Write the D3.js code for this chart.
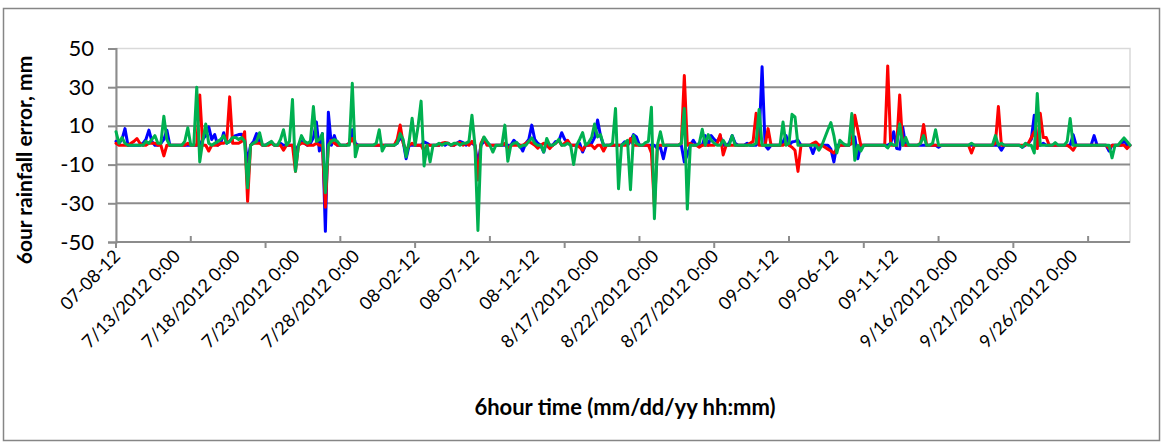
<!DOCTYPE html>
<html><head><meta charset="utf-8">
<script src="https://cdn.jsdelivr.net/npm/d3@7"></script>
<style>
body{margin:0;background:#fff}
svg{display:block}
text{font-family:Lato,"Liberation Sans",sans-serif;fill:#000}
</style>
</head><body>
<svg id="c" width="1163" height="444"></svg>
<script>
// 6-hourly categories, 2012-07-08 00:00 .. 2012-09-30 18:00 (340 points)
const categories = d3.timeHour.every(6).range(new Date(2012,6,8,0), new Date(2012,9,1,0));

const tickLabels = ["07-08-12","7/13/2012 0:00","7/18/2012 0:00","7/23/2012 0:00","7/28/2012 0:00",
  "08-02-12","08-07-12","08-12-12","8/17/2012 0:00","8/22/2012 0:00","8/27/2012 0:00",
  "09-01-12","09-06-12","09-11-12","9/16/2012 0:00","9/21/2012 0:00","9/26/2012 0:00"];
const yTicks = [-50,-30,-10,10,30,50];

const blueSeries = [
 2,1,3,8.6,0,0,0,0,0,1,3,7.8,2,0,0,1,3,7.8,0,0,
 0,0,0,0,0,0,0,0,0,3,5,9.5,3,5.5,0,1,6.5,1,2,4,
 5,5.5,5.7,3,-8.6,0,2,6,2,0,0,1,1,0,0,1,0,0,0,0,
 -3,0,2,1,0,1,4,12,-3,6,-44.5,17,0,5,0,0,0,0,1,8,
 1,0,0,0,0,0,0,0,0,0,0,0,0,0,1,4,2,-7,0,0,
 0,0,0,1.7,1,0,0,0,0,1,0,1,0,0,1,2,1.4,0,1,1,
 0,-10,0,2,1,0,0,0,0,0,0,0,0,2.6,1,0,-3,1,3,10.4,
 3,1,0,-3.5,2,0,0,2,2,6.5,3,1.7,0,0,0,1,-3.5,0,0,1,
 4,13,4.8,0,0,0,0,0,0,0,1.7,0,2,5.5,4.3,0,0,0,0,0,
 0,-1.7,-1,-7,0,0,0,0,0,0,-8.6,-5,0,2.6,0,0,0,5,0,5,
 3,1.7,4.8,0,0,1,5,1,0,0,0,1,0,0,0,3,40.6,0,-2,0,
 0,0,0,1.7,5,0,1.7,2,2.6,0,0,0,0,-4.3,0,0,0,0,0,-2,
 -8.6,0,0,0,0,0,1,4.3,-7,0,0,0,0,0,0,0,0,0,0,1,
 7,-1.7,-2,9.5,0,0,0,0,0,0,0,0,0,0,0,-1,0,0,0,0,
 0,0,0,0,0,0,0,0,0,0,0,0,0,0,0,0,-2.6,0,0,0,
 0,0,0,-1,0,1,3,15.5,0,0,1,0,0,0,0,0,0,0,0,0,
 5.5,0,0,0,0,0,0,5,0,0,0,0,-3,0,0,0,0,2.6,0,0
];
const redSeries = [
 1,0,0,0,0,1,2,3.5,1,0,0,1,1,1,0,0,-5.5,0,0,0,
 0,0,0,0,1,0,0,0,26,0,0,-3,0,0,0,1,1,2,25,1,
 1,1,2,7,-29,0,1,1,1,0,0,0,1,0,0,0,-2.6,0,0,0,
 -13.5,0,1,1,0,0,0,1,0,0,-32,0,2.6,1,0,0,0,0,1,3.5,
 0,0,0,0,0,0,0,0,0,0,0,0,0,0,3,10.5,1,-3,0,1,
 0,0,0,-3,0,0,0,0,0,1,1.4,1,0,0,1,1.4,0,1,0,2,
 0,-18,1,4,0,0,0,0,0,0,1,-2,0,0,0,0,0,1,2,1,
 0,-1.5,0,1,0,-1.7,0,1,2.6,0,1,2.6,0,0,0,-1,-2.6,0,0,0,
 -1.7,0,0,-3,0,0,0,0,0,0,0,0,3.5,0,0,0,0,0,0,-4,
 -32,0,0,0,0,0,0,0,0,1,36,0,1,0,0,-1,0,0,0,0,
 0,1,5.5,-5,0,0,0,0,0,0,0,0,1,2,16.5,0,0,0,8.6,0,
 0,0,0,0,1,0,-1,-2.6,-13.5,0,0,0,0,1,1.7,0,0,-1,-2,-3,
 -4,-2,0,0,0,0,1,15.5,7.8,0,0,0,0,0,0,0,0,0,41,0,
 0,0,26,0,0,0,0,0,0,1,10.7,0,0,0,0,0,0,0,0,0,
 0,0,0,0,0,0,-4,0,0,0,0,0,0,0,1,20,0,0,0,0,
 0,0,0,0,0,1,4,7,-1.7,16.5,4,4,0,0,0,0,0,0,0,-1,
 -2.6,0,0,0,0,0,0,0,0,0,0,0,-1.7,0,0,0,0,0,-1.7,0
];
const greenSeries = [
 7,1,4,1,0,0,0,0,0,0,2,1,3,5,1,1,15,3,0,0,
 0,0,0,2,9,0,0,30,-8.6,2,11,1,0,1,2,3,5,1,2,4,
 4,3,4,2,-22,0,1,2,6.5,0,0,1,2,0,0,3,8,0,2,23.7,
 -13.5,0,5,2,1,2,20,2,3,6,-24.5,0,2,3,2,0,0,0,0,32,
 -6,0,0,0,0,0,0,1,8,-3,0,0,0,0,1,6,3,-6,2,14,
 0,10,22.8,-10.7,0,-8.6,0,0,1,0,1,1,0,1,1,0,1,1,2,15.5,
 0,-44,0,4.3,2,0,-3.5,0,0,0,10.4,-8.3,0,1,1.4,-1,0,0,2,3.8,
 1,0,0,-3.5,3.5,0,0,1,3,0,0,1,0,-10,0,3,6.5,0,1.4,4,
 11,4.3,5.5,0,0,0,1,19,-22.5,0,1,2.6,-23,5,1,0,0,1.4,2,19.7,
 -38,0,7,0,0,0,0,0,0,1,19,-33,0,0,0,1,8.3,0,5.5,2.6,
 1,0,0,2.6,0,0,5,0,0,0,0,0,0,0,1,18.5,0,0,0,0,
 0,0,0,12,0,1,16,14.7,0,0,0,0,0,0,0,-2.6,0,4,8,11.7,
 5,-4,2.6,1,0,0,16.4,-7.8,0,-3,0,0,0,0,0,0,0,0,-1.4,1,
 0,0,11,0,4,0,0,0,0,1,5,0,0,1,8,0,0,0,0,0,
 0,0,0,0,0,0,1,0,0,0,0,0,0,0,5,0,1,0,0,0,
 0,0,0,-1,1,0,0,-4,26.8,0,0,0,0,0,1.4,0,0,0,2,13.8,
 0,0,0,0,0,0,0,0,0,0,0,0,0,-6.5,0,0,2,3.8,2,0
];

const svg = d3.select("#c");
const L = 116, R = 1130, T = 48.5, B = 242;

// outer chart frame
svg.append("rect").attr("x",3.5).attr("y",8.5).attr("width",1156).attr("height",432)
  .attr("fill","#fff").attr("stroke","#868686").attr("stroke-width",1.5);

const x = d3.scalePoint().domain(d3.range(categories.length)).range([L, R]);
const y = d3.scaleLinear().domain([-50, 50]).range([B, T]);

// plot-area border (light)
svg.append("rect").attr("x",L).attr("y",T).attr("width",R-L).attr("height",B-T)
  .attr("fill","none").attr("stroke","#d9d9d9").attr("stroke-width",1.5);

// gridlines
svg.append("g").selectAll("line").data(yTicks.filter(v => v > -50 && v < 50)).join("line")
  .attr("x1",L).attr("x2",R).attr("y1",d=>y(d)).attr("y2",d=>y(d))
  .attr("stroke","#8c8c8c").attr("stroke-width",2);

// y axis (hyphen-minus labels as in the original)
const yAxis = svg.append("g").attr("transform",`translate(${L},0)`)
  .call(d3.axisLeft(y).tickValues(yTicks).tickSize(8).tickPadding(14).tickFormat(d => String(d)));
yAxis.select(".domain").attr("stroke","#8c8c8c").attr("stroke-width",2);
yAxis.selectAll(".tick line").attr("stroke","#8c8c8c").attr("stroke-width",2);
yAxis.selectAll(".tick text").attr("font-size",22).attr("font-family","Lato").attr("fill","#000");

// x axis: major ticks every 50 (outside), minor every 25 (inside)
const n = categories.length;
const major = d3.range(0, n, 50);
const minor = d3.range(25, n, 50);
const xAxisG = svg.append("g").attr("transform",`translate(0,${B})`);
xAxisG.append("line").attr("x1",L).attr("x2",R).attr("y1",0).attr("y2",0)
  .attr("stroke","#8c8c8c").attr("stroke-width",2);
xAxisG.selectAll("line.maj").data(major).join("line").attr("class","maj")
  .attr("x1",d=>x(d)).attr("x2",d=>x(d)).attr("y1",0).attr("y2",6)
  .attr("stroke","#8c8c8c").attr("stroke-width",2);
xAxisG.selectAll("line.min").data(minor).join("line").attr("class","min")
  .attr("x1",d=>x(d)).attr("x2",d=>x(d)).attr("y1",0).attr("y2",-6)
  .attr("stroke","#8c8c8c").attr("stroke-width",2);

// x tick labels every 20 categories
svg.append("g").selectAll("text").data(tickLabels).join("text")
  .attr("transform",(d,i)=>`translate(${x(i*20)+1},${B+11}) rotate(-45)`)
  .attr("text-anchor","end").attr("dy","0.35em")
  .attr("font-size",18).text(d=>d);

// series lines
const line = d3.line().x((d,i)=>x(i)).y(d=>y(d)).curve(d3.curveLinear);
const series = [
  {values: blueSeries, color: "#0000FF"},
  {values: redSeries, color: "#FF0000"},
  {values: greenSeries, color: "#00B050"}
];
svg.append("g").selectAll("path").data(series).join("path")
  .attr("d",d=>line(d.values)).attr("fill","none")
  .attr("stroke",d=>d.color).attr("stroke-width",3)
  .attr("stroke-linejoin","round").attr("stroke-linecap","round");

// axis titles
svg.append("text").attr("x",625).attr("y",415).attr("text-anchor","middle")
  .attr("font-size",22).attr("font-weight","bold").text("6hour time (mm/dd/yy hh:mm)");
svg.append("text").attr("transform","translate(32,160) rotate(-90)").attr("text-anchor","middle")
  .attr("font-size",21).attr("font-weight","bold").text("6our rainfall error, mm");
</script>
</body></html>
